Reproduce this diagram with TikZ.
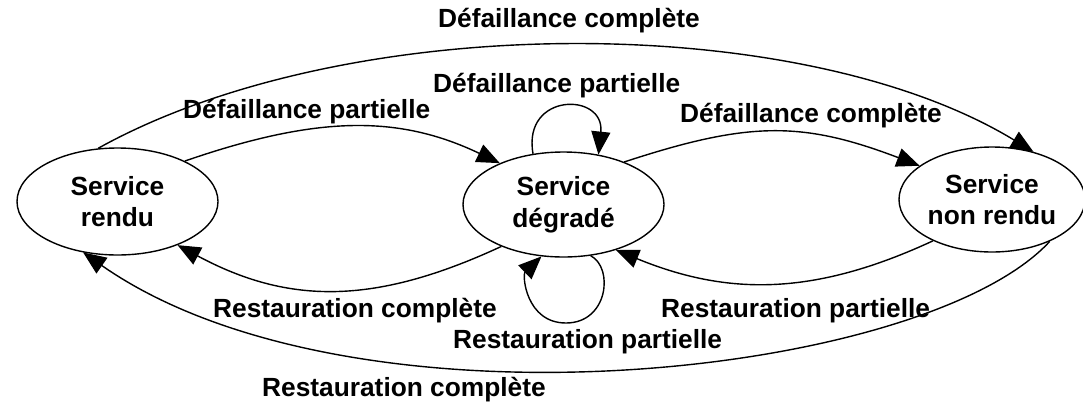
\documentclass[tikz,border=0pt]{standalone}
\usepackage{fontspec}
\setmainfont{Liberation Sans}
\usetikzlibrary{shapes.geometric,arrows.meta}
\tikzset{
  state/.style={draw=black, line width=1.4pt, ellipse, inner sep=0pt, align=center,
    font=\fontsize{26.3}{31.7}\selectfont\bfseries},
  lbl/.style={anchor=base west, inner sep=0pt, font=\fontsize{26.3}{31.7}\selectfont\bfseries},
  arr/.style={draw=black, line width=1.4pt, -{Triangle[length=23pt,width=19pt]}}
}
\begin{document}
\begin{tikzpicture}[x=1pt, y=-1pt]
\useasboundingbox (0,0) rectangle (1083,402);
\node[state, minimum width=201pt, minimum height=107pt] (R) at (117.5,201.5) {Service\\rendu};
\node[state, minimum width=201pt, minimum height=105pt] (D) at (563.5,204.5) {Service\\dégradé};
\node[state, minimum width=186pt, minimum height=105pt] (N) at (992,199.5) {Service\\non rendu};
\coordinate (bl) at (566,323);
% arcs
\draw[arr] (R.110.4) .. controls (347,10) and (800,10) .. (N.49.2);
\draw[arr] (R.31.1) .. controls (318,115) and (399,115) .. (D.147.9);
\draw[arr] (D.35.4) .. controls (749,121) and (802,121) .. (N.155.4);
\draw[arr] (D.-146.4) .. controls (375,305) and (289,305) .. (R.-36.6);
\draw[arr] (N.-145.5) .. controls (814,296) and (728,296) .. (D.-41.5);
\draw[arr] (N.-36.2) .. controls (925,377) and (353,441) .. (R.-124.3);
\draw[arr] (D.121.1) .. controls (522,92) and (605,92) .. (D.55.9);
\draw[arr] (D.-62.3) .. controls (614,268) and (608,323) .. (bl) .. controls (526,323) and (522,275) .. (D.-113.6);
% labels
\node[lbl] (l1) at (438,27) {Défaillance complète};
\node[lbl] (l2) at (433,92) {Défaillance partielle};
\node[lbl] (l3) at (183,118) {Défaillance partielle};
\node[lbl] (l4) at (680,122) {Défaillance complète};
\node[lbl] (l5) at (213,317) {Restauration complète};
\node[lbl] (l6) at (661,317) {Restauration partielle};
\node[lbl] (l7) at (453,348) {Restauration partielle};
\node[lbl] (l8) at (262,396) {Restauration complète};
\end{tikzpicture}
\end{document}
